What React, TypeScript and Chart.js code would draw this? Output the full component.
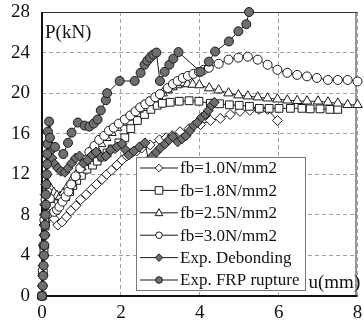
import React, { useEffect, useRef } from 'react';
import { Chart, registerables } from 'chart.js';

Chart.register(...registerables);

const xTicks = [0, 2, 4, 6, 8];
const yTicks = [0, 4, 8, 12, 16, 20, 24, 28];

const legendLabels = ['fb=1.0N/mm2', 'fb=1.8N/mm2', 'fb=2.5N/mm2', 'fb=3.0N/mm2', 'Exp. Debonding', 'Exp. FRP rupture'];
const xTitle = 'u(mm)';
const yTitle = 'P(kN)';

const fb10U = [0, 0.02, 0.05, 0.08, 0.12, 0.17, 0.24, 0.31, 0.40, 0.51, 0.62, 0.73, 0.86, 0.98, 1.12, 1.25, 1.38, 1.52, 1.64, 1.76, 1.90, 2.03, 2.15, 2.27, 2.40, 2.53, 2.74, 2.98, 3.15, 3.30, 3.50, 3.73, 4.02, 4.27, 4.52, 4.77, 5.02, 5.27, 5.50, 5.72, 5.97];
const fb10P = [0, 2.0, 4.0, 6.0, 7.6, 8.3, 8.1, 7.6, 7.0, 7.3, 7.8, 8.4, 8.9, 9.5, 10.0, 10.5, 11.0, 11.5, 12.0, 12.4, 12.9, 13.4, 13.8, 14.1, 14.3, 14.6, 14.9, 15.4, 15.6, 15.8, 16.2, 16.5, 16.9, 17.3, 17.5, 17.9, 18.2, 18.3, 18.4, 18.4, 17.3];

const fb18U = [0, 0.02, 0.05, 0.08, 0.12, 0.18, 0.26, 0.33, 0.41, 0.50, 0.60, 0.70, 0.78, 0.88, 1.00, 1.14, 1.28, 1.40, 1.52, 1.65, 1.78, 1.95, 2.10, 2.25, 2.42, 2.60, 2.76, 2.92, 3.05, 3.25, 3.48, 3.73, 3.98, 4.27, 4.50, 4.75, 5.00, 5.26, 5.51, 5.76, 6.01, 6.30, 6.59, 6.80, 7.05, 7.30, 7.50];
const fb18P = [0, 2.3, 4.6, 6.9, 8.9, 10.1, 9.8, 9.4, 9.1, 9.4, 9.8, 10.3, 10.9, 11.4, 11.9, 12.5, 12.9, 13.3, 13.7, 14.1, 14.5, 15.1, 15.6, 16.5, 17.3, 17.9, 18.4, 18.8, 19.0, 19.1, 19.2, 19.25, 19.2, 19.0, 18.95, 18.85, 18.8, 18.7, 18.5, 18.5, 18.5, 18.5, 18.5, 18.45, 18.45, 18.4, 18.4];

const fb25U = [0, 0.02, 0.05, 0.08, 0.11, 0.15, 0.22, 0.30, 0.38, 0.46, 0.55, 0.65, 0.75, 0.87, 1.00, 1.12, 1.25, 1.38, 1.50, 1.63, 1.76, 1.90, 2.03, 2.17, 2.30, 2.45, 2.57, 2.69, 2.82, 2.94, 3.06, 3.19, 3.31, 3.44, 3.57, 3.69, 3.82, 3.99, 4.24, 4.48, 4.73, 4.98, 5.22, 5.47, 5.72, 5.97, 6.22, 6.47, 6.72, 7.00, 7.25, 7.50, 7.75, 8.00];
const fb25P = [0, 2.5, 5.0, 7.5, 9.8, 11.0, 10.6, 10.2, 9.9, 9.8, 10.2, 10.8, 11.4, 12.0, 12.7, 13.3, 13.9, 14.5, 15.0, 15.6, 16.1, 16.6, 17.1, 17.6, 18.0, 18.4, 18.8, 19.1, 19.4, 19.7, 20.0, 20.3, 20.6, 20.8, 21.0, 20.9, 20.85, 20.8, 20.5, 20.3, 20.0, 19.8, 19.7, 19.6, 19.5, 19.4, 19.3, 19.25, 19.2, 19.2, 19.1, 19.0, 18.85, 18.85];

const fb30U = [0, 0.02, 0.04, 0.06, 0.09, 0.13, 0.20, 0.26, 0.31, 0.38, 0.44, 0.52, 0.60, 0.67, 0.74, 0.85, 0.97, 1.08, 1.20, 1.33, 1.45, 1.58, 1.70, 1.82, 1.95, 2.10, 2.24, 2.37, 2.49, 2.62, 2.74, 2.87, 2.99, 3.19, 3.32, 3.44, 3.57, 3.70, 3.84, 3.98, 4.10, 4.23, 4.48, 4.73, 4.98, 5.22, 5.47, 5.72, 5.97, 6.22, 6.47, 6.72, 6.97, 7.25, 7.50, 7.75, 8.00];
const fb30P = [0, 2.5, 5.0, 7.5, 9.5, 10.3, 9.6, 8.8, 8.3, 8.5, 8.8, 9.3, 9.8, 10.3, 11.0, 11.8, 12.6, 13.4, 14.2, 14.8, 15.4, 15.8, 16.3, 16.6, 17.0, 17.4, 17.8, 18.2, 18.6, 18.9, 19.2, 19.6, 19.9, 20.5, 20.9, 21.2, 21.5, 21.7, 21.9, 22.1, 22.3, 22.5, 22.9, 23.3, 23.5, 23.6, 23.3, 22.8, 22.3, 22.0, 21.8, 21.65, 21.5, 21.3, 21.3, 21.3, 21.15];

const debU = [0, 0.01, 0.02, 0.03, 0.03, 0.04, 0.05, 0.05, 0.06, 0.07, 0.08, 0.09, 0.10, 0.11, 0.12, 0.14, 0.20, 0.25, 0.32, 0.40, 0.48, 0.58, 0.66, 0.75, 0.85, 0.95, 1.05, 1.16, 1.27, 1.37, 1.50, 1.62, 1.74, 1.90, 2.03, 2.12, 2.20, 2.33, 2.47, 2.61, 2.70, 2.80, 2.90, 3.00, 3.12, 3.22, 3.32, 3.44, 3.55, 3.65, 3.75, 3.85, 3.94, 4.05, 4.15, 4.22, 4.30, 4.37];
const debP = [0, 1.0, 2.0, 3.0, 4.0, 5.0, 6.0, 7.0, 8.0, 9.0, 10.0, 11.0, 12.0, 13.0, 14.0, 15.0, 14.2, 13.6, 13.0, 12.6, 12.3, 12.2, 12.6, 13.1, 13.6, 13.8, 13.1, 13.4, 13.9, 14.2, 13.7, 13.8, 14.4, 14.7, 15.0, 14.4, 13.9, 14.3, 14.7, 15.1, 13.4, 13.8, 14.2, 14.6, 15.0, 15.4, 15.7, 15.2, 15.5, 15.8, 16.3, 16.8, 17.1, 17.6, 17.9, 18.3, 18.8, 19.1];

const frpU = [0, 0.02, 0.03, 0.04, 0.05, 0.06, 0.07, 0.08, 0.09, 0.10, 0.10, 0.11, 0.12, 0.13, 0.13, 0.14, 0.15, 0.18, 0.20, 0.33, 0.54, 0.66, 0.75, 0.91, 1.08, 1.20, 1.31, 1.41, 1.49, 1.62, 1.65, 1.97, 2.35, 2.50, 2.60, 2.67, 2.74, 2.82, 2.90, 2.99, 3.11, 3.23, 3.33, 3.46, 4.02, 4.23, 4.39, 4.74, 4.98, 5.18, 5.25];
const frpP = [0, 1.0, 2.0, 3.0, 4.0, 5.0, 6.0, 7.0, 8.0, 9.0, 10.0, 11.0, 12.0, 13.0, 14.0, 15.0, 16.2, 17.2, 15.6, 14.7, 14.0, 15.1, 16.1, 17.1, 16.8, 16.7, 17.0, 17.4, 18.3, 19.3, 20.0, 21.2, 21.2, 22.0, 22.8, 23.2, 23.5, 23.8, 24.0, 21.2, 22.1, 22.8, 23.4, 24.05, 22.1, 23.1, 24.1, 25.1, 26.1, 26.8, 28.0];

const SERIF = "'Liberation Serif', 'Times New Roman', serif";
const DARK = '#6e6e6e';
const EDGE = '#1a1a1a';

type Style = { shape: string; fill: string; r: number };
const styles: Style[] = [
  { shape: 'diamond', fill: '#ffffff', r: 5 },
  { shape: 'square', fill: '#ffffff', r: 5.5 },
  { shape: 'triangle', fill: '#ffffff', r: 5.5 },
  { shape: 'circle', fill: '#ffffff', r: 4.5 },
  { shape: 'diamond', fill: DARK, r: 5 },
  { shape: 'circle', fill: DARK, r: 4.5 },
];

const chartShape = (s: string) =>
  s === 'diamond' ? 'rectRot' : s === 'square' ? 'rect' : s === 'triangle' ? 'triangle' : 'circle';

function drawMarker(ctx: CanvasRenderingContext2D, shape: string, x: number, y: number, r: number, fill: string) {
  ctx.beginPath();
  if (shape === 'circle') {
    ctx.arc(x, y, r, 0, Math.PI * 2);
  } else if (shape === 'square') {
    ctx.rect(x - r, y - r, 2 * r, 2 * r);
  } else if (shape === 'triangle') {
    ctx.moveTo(x, y - r * 1.1);
    ctx.lineTo(x + r, y + r * 0.75);
    ctx.lineTo(x - r, y + r * 0.75);
    ctx.closePath();
  } else {
    ctx.moveTo(x, y - r);
    ctx.lineTo(x + r, y);
    ctx.lineTo(x, y + r);
    ctx.lineTo(x - r, y);
    ctx.closePath();
  }
  ctx.fillStyle = fill;
  ctx.fill();
  ctx.strokeStyle = EDGE;
  ctx.lineWidth = 1;
  ctx.stroke();
}

const framePlugin = {
  id: 'frame',
  beforeDatasetsDraw(chart: any) {
    const { ctx, chartArea: a } = chart;
    ctx.save();
    ctx.strokeStyle = '#333';
    ctx.lineWidth = 1;
    ctx.beginPath();
    ctx.moveTo(a.left, a.top + 0.5);
    ctx.lineTo(a.right, a.top + 0.5);
    ctx.moveTo(a.right - 1.5, a.top);
    ctx.lineTo(a.right - 1.5, a.bottom);
    ctx.stroke();
    ctx.strokeStyle = '#111';
    ctx.lineWidth = 2;
    ctx.beginPath();
    ctx.moveTo(a.left, a.top);
    ctx.lineTo(a.left, a.bottom);
    ctx.lineTo(a.right, a.bottom);
    ctx.stroke();
    ctx.restore();
  },
  afterDraw(chart: any) {
    const { ctx, chartArea: a } = chart;
    ctx.save();
    // axis titles
    ctx.fillStyle = '#111';
    ctx.font = `19px ${SERIF}`;
    ctx.textBaseline = 'middle';
    ctx.textAlign = 'left';
    ctx.fillText(yTitle, a.left + 3, a.top + 21);
    ctx.fillText(xTitle, a.right - 49, a.bottom - 13);

    // legend box
    const bx = a.left + 94;
    const by = a.top + 145;
    const bw = 169;
    const bh = 133;
    ctx.fillStyle = '#fff';
    ctx.fillRect(bx, by, bw, bh);
    ctx.strokeStyle = '#777';
    ctx.lineWidth = 1;
    ctx.strokeRect(bx + 0.5, by + 0.5, bw, bh);
    const rowH = 22.4;
    legendLabels.forEach((lab, i) => {
      const y = by + 11 + i * rowH;
      ctx.strokeStyle = EDGE;
      ctx.lineWidth = 1;
      ctx.beginPath();
      ctx.moveTo(bx + 4, y);
      ctx.lineTo(bx + 42, y);
      ctx.stroke();
      const st = styles[i];
      drawMarker(ctx, st.shape, bx + 23, y, st.shape === 'circle' ? 3.3 : 3.8, st.fill);
      ctx.fillStyle = '#111';
      ctx.font = `17px ${SERIF}`;
      ctx.textAlign = 'left';
      ctx.textBaseline = 'middle';
      ctx.fillText(lab, bx + 44, y + 1);
    });
    ctx.restore();
  },
};

const toPts = (u: number[], p: number[]) => u.map((x, i) => ({ x, y: p[i] }));

export default function App() {
  const ref = useRef<HTMLCanvasElement>(null);
  useEffect(() => {
    const canvas = ref.current;
    if (!canvas) return;
    const series = [
      toPts(fb10U, fb10P),
      toPts(fb18U, fb18P),
      toPts(fb25U, fb25P),
      toPts(fb30U, fb30P),
      toPts(debU, debP),
      toPts(frpU, frpP),
    ];
    const datasets = series.map((data, i) => {
      const st = styles[i];
      return {
        label: legendLabels[i],
        data,
        showLine: true,
        borderColor: EDGE,
        borderWidth: 1,
        pointStyle: chartShape(st.shape),
        pointRadius: st.r,
        pointBackgroundColor: st.fill,
        pointBorderColor: EDGE,
        pointBorderWidth: 1,
        order: i >= 4 ? 5 - i : 2 + (3 - i),
        clip: 12,
      };
    });
    const chart = new Chart(canvas, {
      type: 'scatter',
      data: { datasets: datasets as any },
      options: {
        responsive: false,
        animation: false,
        layout: { padding: { left: 0, right: 0, top: 12, bottom: 0 } },
        plugins: { legend: { display: false }, tooltip: { enabled: false } },
        scales: {
          x: {
            type: 'linear',
            min: 0,
            max: 8,
            afterBuildTicks: (s: any) => {
              s.ticks = xTicks.map((v) => ({ value: v }));
            },
            afterFit: (s: any) => {
              s.height = 35;
              s.paddingLeft = 0;
              s.paddingRight = 0;
            },
            grid: { color: '#a0a0a0', lineWidth: 1, drawTicks: false },
            border: { display: false, dash: [4, 3] },
            ticks: { color: '#111', font: { family: SERIF, size: 19 }, padding: 6, maxRotation: 0 },
          },
          y: {
            type: 'linear',
            min: 0,
            max: 28,
            afterBuildTicks: (s: any) => {
              s.ticks = yTicks.map((v) => ({ value: v }));
            },
            afterFit: (s: any) => {
              s.width = 42;
              s.paddingTop = 0;
              s.paddingBottom = 0;
            },
            grid: { color: '#a0a0a0', lineWidth: 1, drawTicks: false },
            border: { display: false, dash: [4, 3] },
            ticks: { color: '#111', font: { family: SERIF, size: 19 }, padding: 12 },
          },
        },
      },
      plugins: [framePlugin],
    });
    return () => chart.destroy();
  }, []);
  return (
    <div style={{ position: 'absolute', left: 0, top: 0, width: 364, height: 331, background: '#fff' }}>
      <canvas ref={ref} width={364} height={331} style={{ display: 'block' }} />
    </div>
  );
}
